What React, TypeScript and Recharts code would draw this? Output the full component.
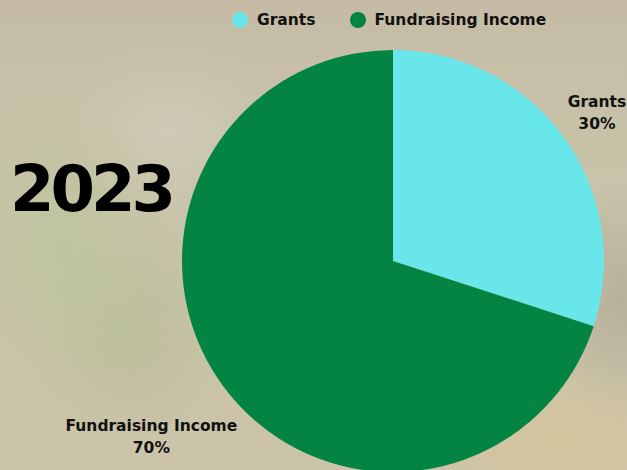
import React from 'react';
import { PieChart, Pie, Cell } from 'recharts';

const CATEGORIES = ['Grants', 'Fundraising Income'];
const SHARES = [30, 70];
const COLORS = ['#69E6E9', '#038442'];
const YEAR_LABEL = '2023';

const chartData = CATEGORIES.map((name, i) => ({ name, value: SHARES[i] }));

const FONT = '"DejaVu Sans", sans-serif';
const RADIAN = Math.PI / 180;

const renderLabel = (props: any) => {
  const { cx, cy, midAngle, outerRadius, name, percent } = props;
  const cos = Math.cos(-midAngle * RADIAN);
  const sin = Math.sin(-midAngle * RADIAN);
  // push the label box outside the pie so that it clears the edge
  const w = String(name).length * 9.6;
  const h = 40;
  const r = outerRadius + 6 + (w / 2) * Math.abs(cos) + (h / 2) * Math.abs(sin);
  const x = cx + r * cos;
  const y = cy + r * sin;
  return (
    <g>
      <text x={x} y={y - 11} textAnchor="middle" dominantBaseline="central"
        fill="#111" fontFamily={FONT} fontWeight="bold" fontSize={15.5}>
        {name}
      </text>
      <text x={x} y={y + 11} textAnchor="middle" dominantBaseline="central"
        fill="#111" fontFamily={FONT} fontWeight="bold" fontSize={15.5}>
        {`${Math.round(percent * 100)}%`}
      </text>
    </g>
  );
};

const LegendRow = () => (
  <div
    style={{
      position: 'absolute',
      left: 232,
      top: 11,
      display: 'flex',
      alignItems: 'center',
      fontFamily: FONT,
      fontWeight: 'bold',
      fontSize: 15.5,
      color: '#111',
      whiteSpace: 'nowrap',
    }}
  >
    {CATEGORIES.map((name, i) => (
      <div key={`legend-${i}`} style={{ display: 'flex', alignItems: 'center', marginRight: i < CATEGORIES.length - 1 ? 34 : 0 }}>
        <span style={{ width: 16, height: 16, borderRadius: 8, background: COLORS[i], marginRight: 9, display: 'inline-block' }} />
        <span>{name}</span>
      </div>
    ))}
  </div>
);

export default function App() {
  return (
    <div
      style={{
        position: 'absolute',
        left: 0,
        top: 0,
        width: 627,
        height: 470,
        overflow: 'hidden',
        background: [
          'radial-gradient(ellipse 120px 160px at 60px 250px, rgba(190,196,158,0.9), rgba(190,196,158,0) 100%)',
          'radial-gradient(ellipse 110px 120px at 130px 330px, rgba(184,188,152,0.8), rgba(184,188,152,0) 100%)',
          'radial-gradient(ellipse 120px 90px at 170px 130px, rgba(208,204,184,0.8), rgba(208,204,184,0) 100%)',
          'radial-gradient(ellipse 140px 80px at 560px 440px, rgba(214,196,156,0.9), rgba(214,196,156,0) 100%)',
          'radial-gradient(ellipse 80px 120px at 620px 300px, rgba(178,170,150,0.8), rgba(178,170,150,0) 100%)',
          'linear-gradient(180deg, #C6BCA5 0%, #C8C4AA 45%, #CCC4A8 100%)',
        ].join(', '),
      }}
    >
      <svg width={200} height={240} style={{ position: 'absolute', left: 0, top: 0 }}>
        <text x={10} y={211} fontFamily={FONT} fontWeight="bold" fontSize={64} letterSpacing={-4} fill="#000">
          {YEAR_LABEL}
        </text>
      </svg>
      <PieChart
        width={627}
        height={470}
        margin={{ top: 0, right: 0, bottom: 0, left: 0 }}
        style={{ position: 'absolute', left: 0, top: 0 }}
      >
        <Pie
          data={chartData}
          dataKey="value"
          nameKey="name"
          cx={393}
          cy={261}
          outerRadius={211}
          startAngle={90}
          endAngle={-270}
          stroke="none"
          label={renderLabel}
          labelLine={false}
          isAnimationActive={false}
        >
          {chartData.map((entry, index) => (
            <Cell key={`cell-${index}`} fill={COLORS[index % COLORS.length]} />
          ))}
        </Pie>
      </PieChart>
      <LegendRow />
    </div>
  );
}
